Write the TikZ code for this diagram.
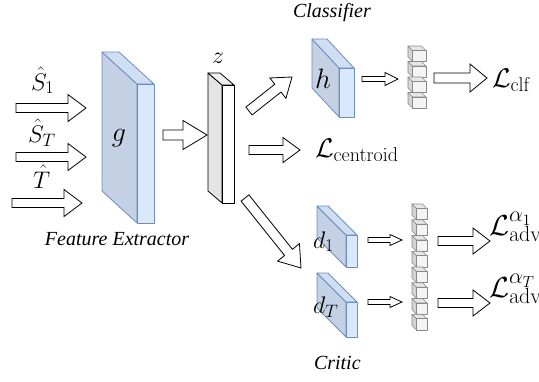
\RequirePackage{fix-cm}
\documentclass[tikz,border=0pt]{standalone}
\usepackage[no-math]{fontspec}
\setmainfont{Liberation Serif}
\usetikzlibrary{calc}
\DeclareMathSizes{24}{24}{18}{13}
\DeclareMathSizes{27}{27}{20}{15}
\DeclareMathSizes{28}{28}{20}{14}
\DeclareMathSizes{29}{29}{22}{16}
\definecolor{bfront}{HTML}{DAE8FC}
\definecolor{bside}{HTML}{C4D0E4}
\definecolor{btop}{HTML}{D0DEF3}
\definecolor{bline}{HTML}{6C8EBF}
\definecolor{zside}{HTML}{E4E4E4}
\definecolor{ztop}{HTML}{F0F0F0}
\definecolor{cfront}{HTML}{F4F4F4}
\definecolor{cside}{HTML}{D4D4D4}
\definecolor{ctop}{HTML}{E6E6E6}
\definecolor{cline}{HTML}{8A8A8A}
\newcommand{\mfont}{\fontsize{24}{28}\selectfont}
\newcommand{\lfont}{\fontsize{27}{30}\selectfont}
\newcommand{\afont}{\fontsize{29}{32}\selectfont}
\newcommand{\gfont}{\fontsize{28}{32}\selectfont}
\newcommand{\tfont}{\fontsize{20}{24}\selectfont\itshape}
\newcommand{\slab}[7]{%
  \filldraw[#1side] (#2,#3) -- ({#2-#6},{#3-#7}) -- ({#2-#6},{#5-#7}) -- (#2,#5) -- cycle;
  \filldraw[#1top] (#2,#3) -- ({#2-#6},{#3-#7}) -- ({#4-#6},{#3-#7}) -- (#4,#3) -- cycle;
  \filldraw[#1front] (#2,#3) rectangle (#4,#5);
}
\newcommand{\onecube}[5]{% x y depth width step
  \filldraw[cubeside] (#1,#2) -- ({#1+#3},{#2+#3}) -- ({#1+#3},{#2+#5}) -- (#1,{#2+#5-#3}) -- cycle;
  \filldraw[cubetop] (#1,#2) -- ({#1+#4},#2) -- ({#1+#4+#3},{#2+#3}) -- ({#1+#3},{#2+#3}) -- cycle;
  \filldraw[cubefront] ({#1+#3},{#2+#3}) rectangle ({#1+#3+#4},{#2+#5});
}
\newcommand{\fatarrow}[5]{% from, to, body half, head half, head length
  \coordinate (fahb) at ($(#2)!#5!(#1)$);
  \draw[fatarr] ($(#1)!#3!90:(#2)$) -- ($(fahb)!#3!90:(#2)$) -- ($(fahb)!#4!90:(#2)$)
    -- (#2) -- ($(fahb)!#4!-90:(#2)$) -- ($(fahb)!#3!-90:(#2)$) -- ($(#1)!#3!-90:(#2)$) -- cycle;
}
\tikzset{
  blueside/.style={fill=bside,draw=bline,line width=0.8pt,line join=round},
  bluetop/.style={fill=btop,draw=bline,line width=0.8pt,line join=round},
  bluefront/.style={fill=bfront,draw=bline,line width=0.8pt,line join=round},
  grayside/.style={fill=zside,draw=black,line width=0.8pt,line join=round},
  graytop/.style={fill=ztop,draw=black,line width=0.8pt,line join=round},
  grayfront/.style={fill=white,draw=black,line width=0.8pt,line join=round},
  cubeside/.style={fill=cside,draw=cline,line width=0.6pt,line join=round},
  cubetop/.style={fill=ctop,draw=cline,line width=0.6pt,line join=round},
  cubefront/.style={fill=cfront,draw=cline,line width=0.6pt,line join=round},
  fatarr/.style={fill=white,draw=black,line width=0.8pt,line join=miter},
  lbl/.style={anchor=base west,inner sep=0pt,outer sep=0pt},
  lblc/.style={anchor=base,inner sep=0pt,outer sep=0pt}
}
\begin{document}
\begin{tikzpicture}[x=1pt,y=-1pt]
\useasboundingbox[fill=white] (0,0) rectangle (539,381);

% blocks
\slab{blue}{137}{84}{154}{223}{35}{32}
\slab{gray}{222}{85}{234}{203}{14}{12}
\slab{blue}{339}{68}{354}{117}{27}{29}
\slab{blue}{346}{235}{357}{267}{29}{29}
\slab{blue}{346}{302}{357}{337}{29}{29}

% cube columns
\foreach \i in {0,...,3} {\onecube{408}{46+15.5*\i}{4.5}{13.5}{15.5}}
\foreach \i in {0,...,7} {\onecube{412}{204+15.75*\i}{4.5}{10.5}{15.75}}

% labels
\node[lbl] (S1) at (31,90) {\mfont$\hat{S}_1$};
\node[lbl] (ST) at (28,142) {\mfont$\hat{S}_T$};
\node[lbl] (T) at (33,188) {\mfont$\hat{T}$};
\node[lblc] (g) at (119,141) {\gfont$g$};
\node[lblc] (z) at (218,63) {\mfont$z$};
\node[lblc] (h) at (323,88) {\gfont$h$};
\node[lbl] (d1) at (313,248) {\mfont$d_1$};
\node[lbl] (dT) at (313,313) {\mfont$d_T$};
\node[lbl] (Lcen) at (315,157) {\lfont$\mathcal{L}_{\mathrm{centroid}}$};
\node[lbl] (Lclf) at (492,87) {\lfont$\mathcal{L}_{\mathrm{clf}}$};
\node[lbl] (La1) at (489,235) {\afont$\mathcal{L}^{\alpha_1}_{\mathrm{adv}}$};
\node[lbl] (LaT) at (489,297) {\afont$\mathcal{L}^{\alpha_T}_{\mathrm{adv}}$};
\node[lbl] (fe) at (45,245) {\tfont Feature Extractor};
\node[lbl] (cl) at (293,17) {\tfont Classifier};
\node[lbl] (cr) at (314,369) {\tfont Critic};

% arrow end points
\coordinate (a1s) at (16,108);  \coordinate (a1e) at (86,108);
\coordinate (a2s) at (16,157);  \coordinate (a2e) at (86,157);
\coordinate (a3s) at (12,203);  \coordinate (a3e) at (82,203);
\coordinate (gzs) at (163,135); \coordinate (gze) at (207,135);
\coordinate (zhs) at (249,111); \coordinate (zhe) at (292,77);
\coordinate (zcs) at (249,150); \coordinate (zce) at (300,150);
\coordinate (zds) at (245,198); \coordinate (zde) at (301,268);
\coordinate (hcs) at (362,79);  \coordinate (hce) at (398,79);
\coordinate (cls) at (434,78);  \coordinate (cle) at (487,78);
\coordinate (d1s) at (368,240); \coordinate (d1e) at (402,240);
\coordinate (dTs) at (368,302); \coordinate (dTe) at (402,302);
\coordinate (v1s) at (438,241); \coordinate (v1e) at (490,241);
\coordinate (v2s) at (438,303); \coordinate (v2e) at (490,303);

\fatarrow{a1s}{a1e}{4.5pt}{13.5pt}{18pt}
\fatarrow{a2s}{a2e}{4.5pt}{13.5pt}{18pt}
\fatarrow{a3s}{a3e}{4.5pt}{13.5pt}{18pt}
\fatarrow{gzs}{gze}{5pt}{14.5pt}{24pt}
\fatarrow{zhs}{zhe}{5pt}{13pt}{18pt}
\fatarrow{zcs}{zce}{4.5pt}{12.5pt}{17pt}
\fatarrow{zds}{zde}{5pt}{14pt}{20pt}
\fatarrow{hcs}{hce}{2.5pt}{6.5pt}{13pt}
\fatarrow{cls}{cle}{5pt}{14pt}{17pt}
\fatarrow{d1s}{d1e}{2.5pt}{5.5pt}{12pt}
\fatarrow{dTs}{dTe}{2.5pt}{5.5pt}{12pt}
\fatarrow{v1s}{v1e}{4.5pt}{13pt}{17pt}
\fatarrow{v2s}{v2e}{4.5pt}{13pt}{17pt}
\end{tikzpicture}
\end{document}
